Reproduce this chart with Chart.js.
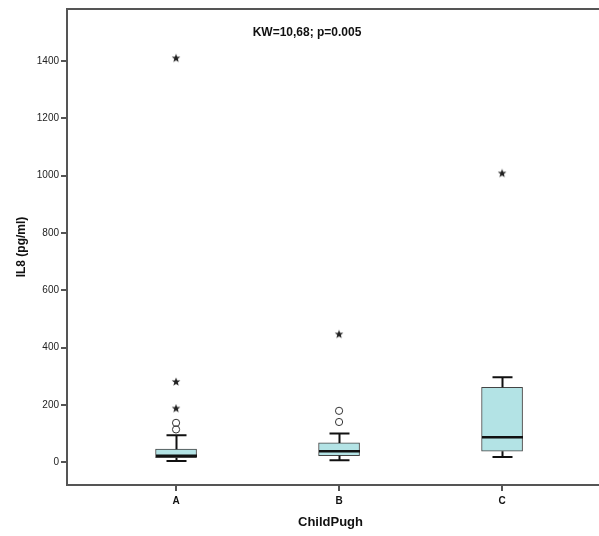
<!DOCTYPE html>
<html>
<head>
<meta charset="utf-8">
<script src="https://cdn.jsdelivr.net/npm/chart.js@4/dist/chart.umd.min.js"></script>
<style>
  html, body { margin: 0; padding: 0; background: #fff; overflow: hidden; }
  #wrap { width: 599px; height: 536px; position: relative; }
</style>
</head>
<body>
<div id="wrap"><canvas id="c" width="599" height="536"></canvas></div>
<script>
// IL8 by Child-Pugh class: box plot summary values
const categories = ['A', 'B', 'C'];
const q1 = [15, 22, 38];
const q3 = [45, 67, 261];
const medians = [22, 38, 87];
const whiskerLow = [4, 6, 18];
const whiskerHigh = [94, 100, 296];
// outliers (circles) and extreme values (stars), per class
const outliersA = [114, 137];
const outliersB = [140, 179];
const outliersC = [];
const extremesA = [187, 280, 1410];
const extremesB = [446];
const extremesC = [1008];
const yTicks = [0, 200, 400, 600, 800, 1000, 1200, 1400];
const annotation = 'KW=10,68; p=0.005';

const outlierGroups = [outliersA, outliersB, outliersC];
const extremeGroups = [extremesA, extremesB, extremesC];

const FONT = 'Arial, "Liberation Sans", sans-serif';
const AXIS = '#555555';

// filled five-point star marker
function makeStar(size, color) {
  const cv = document.createElement('canvas');
  cv.width = size; cv.height = size;
  const g = cv.getContext('2d');
  const cx = size / 2, cy = size / 2, ro = size / 2 - 0.5, ri = ro * 0.42;
  g.beginPath();
  for (let i = 0; i < 10; i++) {
    const r = i % 2 === 0 ? ro : ri;
    const a = -Math.PI / 2 + i * Math.PI / 5;
    const px = cx + r * Math.cos(a), py = cy + r * Math.sin(a);
    if (i === 0) g.moveTo(px, py); else g.lineTo(px, py);
  }
  g.closePath();
  g.fillStyle = color;
  g.fill();
  return cv;
}
const starImg = makeStar(10, '#222222');

const boxData = categories.map((c, i) => ({ x: i + 1, y: [q1[i], q3[i]] }));
const circlePts = [];
outlierGroups.forEach((arr, i) => arr.forEach(v => circlePts.push({ x: i + 1, y: v })));
const starPts = [];
extremeGroups.forEach((arr, i) => arr.forEach(v => starPts.push({ x: i + 1, y: v })));

const BOX_W = 41;
const CAP_W = 20;

// whiskers, caps, medians, frame top line and the test annotation
const boxExtras = {
  id: 'boxExtras',
  afterDatasetsDraw(chart) {
    const { ctx, scales: { x, y } } = chart;
    ctx.save();
    ctx.strokeStyle = '#111111';
    ctx.lineCap = 'butt';
    categories.forEach((c, i) => {
      const cx = Math.round(x.getPixelForValue(i + 1)) + 0.5;
      const yLo = y.getPixelForValue(whiskerLow[i]);
      const yHi = y.getPixelForValue(whiskerHigh[i]);
      const yQ1 = y.getPixelForValue(q1[i]);
      const yQ3 = y.getPixelForValue(q3[i]);
      const yMed = y.getPixelForValue(medians[i]);
      ctx.lineWidth = 2;
      ctx.beginPath();
      ctx.moveTo(cx, yQ3); ctx.lineTo(cx, yHi);
      ctx.moveTo(cx, yQ1); ctx.lineTo(cx, yLo);
      ctx.moveTo(cx - CAP_W / 2, yHi); ctx.lineTo(cx + CAP_W / 2, yHi);
      ctx.moveTo(cx - CAP_W / 2, yLo); ctx.lineTo(cx + CAP_W / 2, yLo);
      ctx.stroke();
      ctx.lineWidth = 2.5;
      ctx.beginPath();
      ctx.moveTo(cx - BOX_W / 2, yMed); ctx.lineTo(cx + BOX_W / 2, yMed);
      ctx.stroke();
    });
    ctx.restore();
  },
  afterDraw(chart) {
    const { ctx, chartArea } = chart;
    ctx.save();
    ctx.strokeStyle = AXIS;
    ctx.lineWidth = 2;
    ctx.beginPath();
    ctx.moveTo(chartArea.left, chartArea.top);
    ctx.lineTo(chart.width, chartArea.top);
    ctx.moveTo(chartArea.left, chartArea.bottom);
    ctx.lineTo(chart.width, chartArea.bottom);
    ctx.stroke();
    ctx.fillStyle = '#111111';
    ctx.font = 'bold 12px ' + FONT;
    ctx.textAlign = 'center';
    ctx.textBaseline = 'middle';
    ctx.fillText(annotation, chartArea.left + 240, chartArea.top + 24);
    ctx.restore();
  }
};

new Chart(document.getElementById('c'), {
  type: 'bar',
  data: {
    datasets: [
      {
        type: 'bar',
        data: boxData,
        backgroundColor: '#b3e3e5',
        borderColor: '#444444',
        borderWidth: 1,
        borderSkipped: false,
        barThickness: BOX_W,
        order: 3
      },
      {
        type: 'scatter',
        data: circlePts,
        pointStyle: 'circle',
        radius: 3.6,
        borderWidth: 1,
        borderColor: '#333333',
        backgroundColor: 'rgba(255,255,255,0)',
        order: 1
      },
      {
        type: 'scatter',
        data: starPts,
        pointStyle: starImg,
        order: 1
      }
    ]
  },
  options: {
    responsive: false,
    animation: false,
    layout: { padding: { top: 9, right: 0, left: 0, bottom: 0 } },
    plugins: { legend: { display: false }, tooltip: { enabled: false } },
    scales: {
      x: {
        type: 'linear',
        offset: false,
        min: 0.331,
        max: 3.564,
        afterBuildTicks(axis) { axis.ticks = categories.map((c, i) => ({ value: i + 1 })); },
        afterFit(axis) { axis.height = 51; },
        ticks: {
          callback: (v) => categories[Math.round(v) - 1],
          color: '#111111',
          font: { family: FONT, size: 10, weight: 'bold' },
          padding: 4,
          maxRotation: 0,
          autoSkip: false
        },
        grid: { offset: false, drawOnChartArea: false, tickLength: 6, color: AXIS, lineWidth: 2 },
        border: { color: AXIS, width: 2 },
        title: {
          display: true,
          text: 'ChildPugh',
          color: '#111111',
          font: { family: FONT, size: 13, weight: 'bold' },
          padding: { top: 0, bottom: 6 }
        }
      },
      y: {
        type: 'linear',
        min: -80,
        max: 1582,
        afterBuildTicks(axis) { axis.ticks = yTicks.map(v => ({ value: v })); },
        afterFit(axis) { axis.width = 67; },
        ticks: {
          callback: (v) => String(v),
          color: '#222222',
          font: { family: FONT, size: 10 },
          padding: 2
        },
        grid: { drawOnChartArea: false, tickLength: 6, color: AXIS, lineWidth: 2 },
        border: { color: AXIS, width: 2 },
        title: {
          display: true,
          text: 'IL8 (pg/ml)',
          color: '#111111',
          font: { family: FONT, size: 12, weight: 'bold' },
          padding: { top: 14, bottom: 0 }
        }
      }
    }
  },
  plugins: [boxExtras]
});
</script>
</body>
</html>
